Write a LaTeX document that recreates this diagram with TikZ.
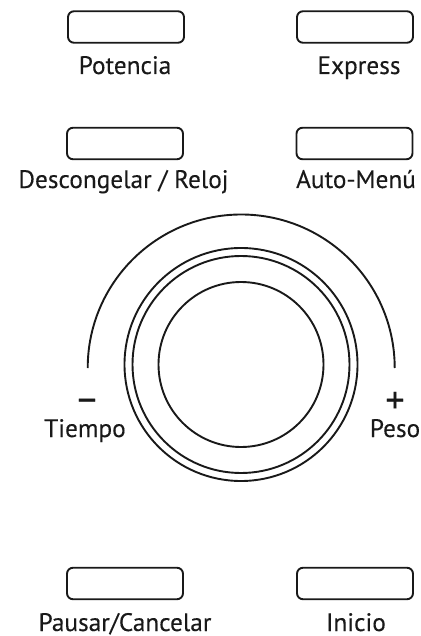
\documentclass[tikz,border=0pt]{standalone}
\usepackage{fontspec}
\setmainfont[FakeBold=0.2]{PT Sans}
\begin{document}
\begin{tikzpicture}[x=1pt,y=-1pt,
 btn/.style={draw=black!90,line width=1.9pt,rounded corners=6pt,minimum width=116pt,minimum height=31.5pt,inner sep=0pt,outer sep=0pt},
 lbl/.style={font=\fontsize{25.3}{28}\selectfont,text=black!90,inner sep=0pt,anchor=base},
 sgn/.style={font=\fontsize{38}{40}\selectfont,text=black!90,inner sep=0pt,anchor=base},
 ring/.style={draw=black!90,line width=1.9pt,circle,inner sep=0pt,outer sep=0pt}]
\useasboundingbox (0,0) rectangle (420,636);
\node[btn] (b1) at (126,27) {};
\node[btn] (b2) at (355,27) {};
\node[btn] (b3) at (125,143.5) {};
\node[btn] (b4) at (354.5,143.5) {};
\node[btn] (b5) at (125,583.5) {};
\node[btn] (b6) at (355,583.5) {};
\node[lbl] (l1) at (125,74) {Potencia};
\node[lbl] (l2) at (359,74) {Express};
\node[lbl] (l3) at (123.5,188) {Descongelar / Reloj};
\node[lbl] (l4) at (356,188) {Auto-Menú};
\node[lbl] (l5) at (125,631) {Pausar/Cancelar};
\node[lbl] (l6) at (356,631) {Inicio};
\node[lbl] (l7) at (85,437) {Tiempo};
\node[lbl] (l8) at (395,437) {Peso};
\node[sgn] (m) at (87,413) {−};
\node[sgn] (p) at (395,413) {+};
\node[ring,minimum size=233pt] (c1) at (241,364.5) {};
\node[ring,minimum size=217pt] (c2) at (241,364.5) {};
\node[ring,minimum size=165pt] (c3) at (241,364.5) {};
\draw[line width=1.9pt,draw=black!90] (87.7,368) arc[start angle=180,end angle=360,radius=153.5];
\end{tikzpicture}
\end{document}
